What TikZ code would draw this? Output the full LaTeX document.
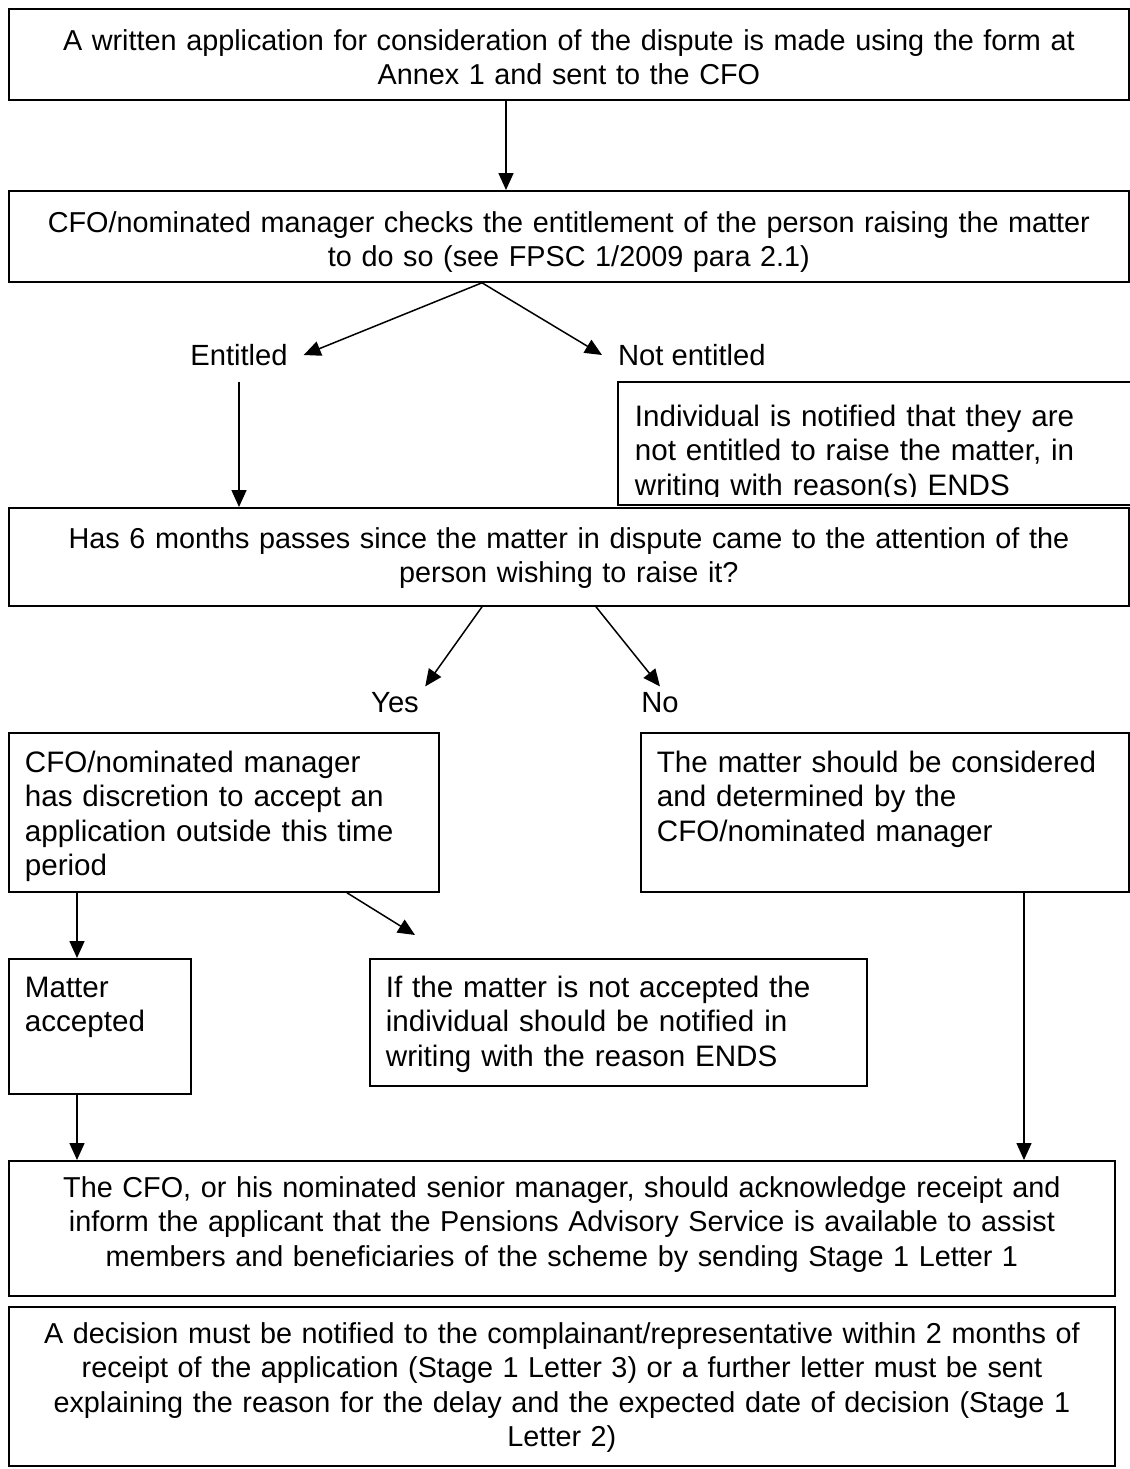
\documentclass[tikz,border=0pt]{standalone}
\usepackage{fontspec}
\setmainfont{Liberation Sans}
\usetikzlibrary{arrows.meta}
\tikzset{
    flow-box/.style = {draw, line width=0.9pt, rectangle, anchor=north west, inner xsep=2pt, inner ysep=0pt, align=center, font=\fontsize{14.4pt}{17.2pt}\selectfont},
    flow-box-left/.style = {flow-box, inner xsep=8pt, align=left, font=\fontsize{14.8pt}{17.2pt}\selectfont},
    flow-label/.style = {inner sep=3pt, font=\fontsize{14.6pt}{17.2pt}\selectfont},
    flow-arrow/.style = {line width=0.75pt, -{Triangle[length=8.5pt, width=7.5pt]}},
}

\begin{document}
\begin{tikzpicture}[x=0.5pt, y=-0.5pt]
\useasboundingbox (0,0) rectangle (1130,1469);

\node[flow-box, text width=556pt, text height=20.7pt, text depth=24.8pt] (application) at (8,8) {A written application for consideration of the dispute is made using the form at\\ Annex 1 and sent to the CFO};
\node[flow-box, text width=556pt, text height=20.7pt, text depth=24.8pt] (entitlement) at (8,190) {CFO/nominated manager checks the entitlement of the person raising the matter\\ to do so (see FPSC 1/2009 para 2.1)};

\node[flow-label, outer sep=5pt] (entitled) at (239,355) {Entitled};
\node[flow-label, outer sep=5pt, anchor=west] (not-entitled) at (602,355) {Not entitled};

\begin{scope}
\clip (610,375) rectangle (1140,496);
\node[flow-box-left, draw=none, text width=245pt, text height=21.7pt, text depth=38.8pt] (refused) at (618,382) {Individual is notified that they are\\ not entitled to raise the matter, in\\ writing with reason(s) ENDS};
\end{scope}
\draw[line width=0.9pt] (refused.north west) rectangle (refused.south east);

\node[flow-box, text width=556pt, text height=20.2pt, text depth=28.8pt] (six-months) at (8,507) {Has 6 months passes since the matter in dispute came to the attention of the\\ person wishing to raise it?};

\node[flow-label] (yes) at (395,703) {Yes};
\node[flow-label] (no) at (660,703) {No};

\node[flow-box-left, text width=199pt, text height=19.7pt, text depth=59.8pt] (discretion) at (8,732) {CFO/nominated manager\\ has discretion to accept an\\ application outside this time\\ period};
\node[flow-box-left, text width=228pt, text height=19.7pt, text depth=59.8pt] (determined) at (640,732) {The matter should be considered\\ and determined by the\\ CFO/nominated manager};

\node[flow-box-left, text width=75pt, text height=19.2pt, text depth=48.3pt] (accepted) at (8,958) {Matter\\ accepted};
\node[flow-box-left, text width=232.5pt, text height=19.2pt, text depth=44.3pt] (rejected) at (369,958) {If the matter is not accepted the\\ individual should be notified in\\ writing with the reason ENDS};

\node[flow-box, text width=549pt, text height=18.2pt, text depth=49.3pt] (acknowledge) at (8,1160) {The CFO, or his nominated senior manager, should acknowledge receipt and\\ inform the applicant that the Pensions Advisory Service is available to assist\\ members and beneficiaries of the scheme by sending Stage 1 Letter 1};
\node[flow-box, text width=549pt, text height=18.2pt, text depth=61.3pt] (decision) at (8,1306) {A decision must be notified to the complainant/representative within 2 months of\\ receipt of the application (Stage 1 Letter 3) or a further letter must be sent\\ explaining the reason for the delay and the expected date of decision (Stage 1\\ Letter 2)};

\coordinate (x-main) at (506,0);
\coordinate (x-split) at (482,0);
\coordinate (x-no) at (596,0);
\coordinate (x-left) at (77,0);
\coordinate (x-late) at (347,0);
\coordinate (x-right) at (1024,0);
\coordinate (late-tip) at (415,935);

\draw[flow-arrow] (application.south -| x-main) -- (entitlement.north -| x-main);
\draw[flow-arrow] (entitlement.south -| x-split) -- (entitled.east);
\draw[flow-arrow] (entitlement.south -| x-split) -- (not-entitled.west);
\draw[flow-arrow] (entitled.south) -- (six-months.north -| entitled.south);
\draw[flow-arrow] (six-months.south -| x-split) -- (yes.north east);
\draw[flow-arrow] (six-months.south -| x-no) -- (no.north);
\draw[flow-arrow] (discretion.south -| x-left) -- (accepted.north -| x-left);
\draw[flow-arrow] (discretion.south -| x-late) -- (late-tip);
\draw[flow-arrow] (accepted.south -| x-left) -- (acknowledge.north -| x-left);
\draw[flow-arrow] (determined.south -| x-right) -- (acknowledge.north -| x-right);
\end{tikzpicture}
\end{document}
